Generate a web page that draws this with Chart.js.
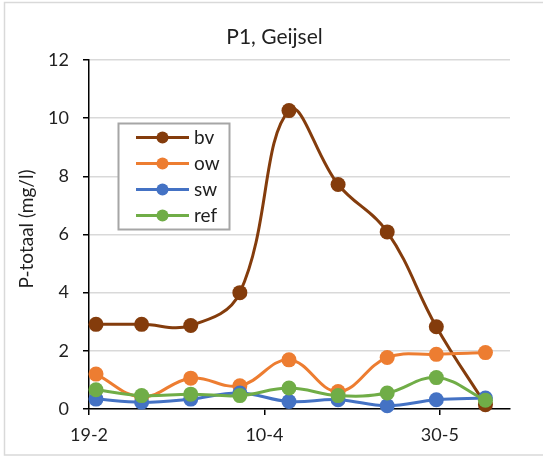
<!DOCTYPE html>
<html>
<head>
<meta charset="utf-8">
<script src="https://cdn.jsdelivr.net/npm/chart.js@4/dist/chart.umd.min.js"></script>
<style>
  html, body { margin: 0; padding: 0; background: #fff; }
  canvas { display: block; }
</style>
</head>
<body>
<canvas id="c" width="543" height="456"></canvas>
<script>
// Sampling moments, in days after 19-2
const sampleDays = [2, 15, 29, 43, 57, 71, 85, 99, 113];
// P-totaal (mg/l) per sampling point
const bv  = [2.91, 2.91, 2.87, 4.00, 10.26, 7.72, 6.09, 2.83, 0.15];
const ow  = [1.20, 0.42, 1.06, 0.80, 1.69, 0.60, 1.77, 1.88, 1.94];
const sw  = [0.34, 0.23, 0.34, 0.55, 0.26, 0.32, 0.11, 0.32, 0.38];
const ref = [0.66, 0.46, 0.51, 0.46, 0.72, 0.46, 0.55, 1.08, 0.30];
const seriesNames = ['bv', 'ow', 'sw', 'ref'];
// x-axis tick positions (days after 19-2) and their labels
const tickDays = [0, 50, 100];
const tickLabels = ['19-2', '10-4', '30-5'];
const chartTitle = 'P1, Geijsel';
const yTitle = 'P-totaal (mg/l)';

const colors = ['#843C0C', '#ED7D31', '#4472C4', '#70AD47'];
const FONT = 'Lato, "Open Sans", sans-serif';
const TEXT = '#1f1f1f';

function pts(vals) { return sampleDays.map((d, i) => ({ x: d, y: vals[i] })); }

const seriesVals = [bv, ow, sw, ref];
const datasets = seriesVals.map((vals, i) => ({
  label: seriesNames[i],
  data: pts(vals),
  borderColor: colors[i],
  backgroundColor: colors[i],
  pointBackgroundColor: colors[i],
  pointBorderColor: colors[i],
  borderWidth: 3,
  pointRadius: 7.5,
  pointBorderWidth: 0,
  tension: 0.4,
  clip: false,
  order: seriesVals.length - i   // later series drawn on top
}));

// Chart frame, title, axis title and boxed legend
const decor = {
  id: 'decor',
  beforeDraw(chart) {
    const ctx = chart.ctx;
    ctx.save();
    ctx.fillStyle = '#fff';
    ctx.fillRect(0, 0, chart.width, chart.height);
    ctx.strokeStyle = '#d9d9d9';
    ctx.lineWidth = 1.5;
    ctx.strokeRect(4.5, 2.5, 600, 452.5);
    ctx.restore();
  },
  afterDraw(chart) {
    const ctx = chart.ctx;
    ctx.save();
    // title
    ctx.fillStyle = TEXT;
    ctx.font = '21px ' + FONT;
    ctx.textAlign = 'center';
    ctx.textBaseline = 'middle';
    ctx.fillText(chartTitle, 274.5, 37);
    // y-axis title
    ctx.save();
    ctx.translate(27, 229);
    ctx.rotate(-Math.PI / 2);
    ctx.font = '19px ' + FONT;
    ctx.fillText(yTitle, 0, 0);
    ctx.restore();
    // legend
    const bx = 118.5, by = 123.5, bw = 111, bh = 106;
    ctx.fillStyle = '#fff';
    ctx.fillRect(bx, by, bw, bh);
    ctx.strokeStyle = '#a6a6a6';
    ctx.lineWidth = 2;
    ctx.strokeRect(bx, by, bw, bh);
    chart.data.datasets.forEach((ds, i) => {
      const y = 137.5 + 26 * i;
      ctx.strokeStyle = ds.borderColor;
      ctx.lineWidth = 3;
      ctx.beginPath();
      ctx.moveTo(136, y);
      ctx.lineTo(189, y);
      ctx.stroke();
      ctx.fillStyle = ds.borderColor;
      ctx.beginPath();
      ctx.arc(162.5, y, 6, 0, Math.PI * 2);
      ctx.fill();
      ctx.fillStyle = TEXT;
      ctx.font = '19px ' + FONT;
      ctx.textAlign = 'left';
      ctx.textBaseline = 'middle';
      ctx.fillText(ds.label, 194, y);
    });
    ctx.restore();
  }
};

new Chart(document.getElementById('c'), {
  type: 'line',
  data: { datasets },
  plugins: [decor],
  options: {
    responsive: false,
    animation: false,
    devicePixelRatio: 1,
    layout: { padding: { top: 60, right: 33, bottom: 0, left: 0 } },
    plugins: { legend: { display: false }, title: { display: false }, tooltip: { enabled: false } },
    scales: {
      x: {
        type: 'linear',
        min: 0,
        max: 120,
        afterFit(s) { s.height = 47; },
        afterBuildTicks(s) { s.ticks = tickDays.map(v => ({ value: v })); },
        ticks: {
          autoSkip: false,
          maxRotation: 0,
          padding: 9,
          color: TEXT,
          font: { family: FONT, size: 18 },
          callback(v) { const k = tickDays.indexOf(v); return k >= 0 ? tickLabels[k] : ''; }
        },
        grid: { drawOnChartArea: false, drawTicks: true, tickLength: 6, tickColor: '#000', lineWidth: 1.5 },
        border: { color: '#000', width: 1.5 }
      },
      y: {
        min: 0,
        max: 12,
        afterFit(s) { s.width = 89; },
        ticks: {
          stepSize: 2,
          padding: 14,
          color: TEXT,
          font: { family: FONT, size: 18 }
        },
        grid: { color: '#d9d9d9', lineWidth: 1.5, drawTicks: true, tickLength: 6, tickColor: '#000' },
        border: { color: '#000', width: 1.5 }
      }
    }
  }
});
</script>
</body>
</html>
